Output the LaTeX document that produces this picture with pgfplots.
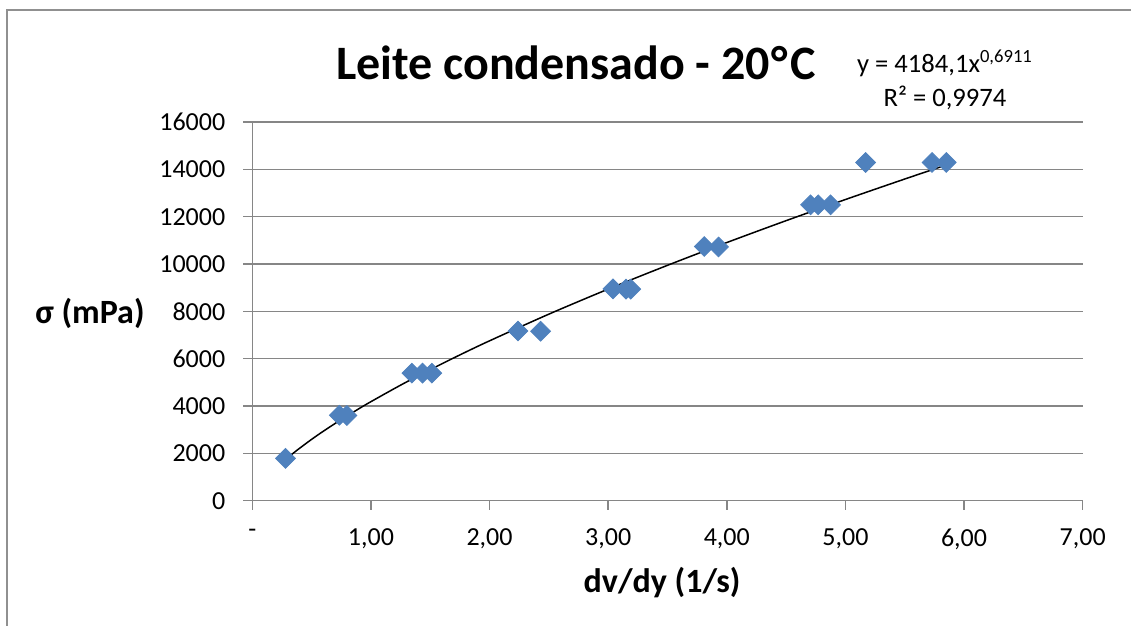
\documentclass[border=0pt]{standalone}
\usepackage{pgfplots}
\pgfplotsset{compat=1.18}
\usepackage{fontspec}
\setmainfont{Carlito}
\definecolor{ser}{HTML}{4F81BD}
\definecolor{axg}{HTML}{868686}
\definecolor{frm}{HTML}{909090}
\begin{document}
\begin{tikzpicture}
\useasboundingbox (0,0) rectangle (565.5pt,-313pt);
\draw[frm, line width=1pt] (3.5pt,-320pt) -- (3.5pt,-5pt) -- (570pt,-5pt);
\begin{axis}[
  at={(126.15pt,-250.35pt)}, anchor=south west,
  scale only axis, width=415.2pt, height=189.35pt,
  xmin=0, xmax=7, ymin=0, ymax=16000,
  xtick={0,1,...,7},
  xticklabels={-,{1,00},{2,00},{3,00},{4,00},{5,00},{6,00},{7,00}},
  ytick={0,2000,...,16000},
  scaled y ticks=false,
  /pgf/number format/assume math mode=true,
  /pgf/number format/1000 sep={},
  yticklabel style={font=\fontsize{13}{15}\selectfont, xshift=-5.5pt},
  xticklabel style={font=\fontsize{13}{15}\selectfont, yshift=-6pt},
  axis x line*=bottom, axis y line*=left,
  axis line style={axg, line width=0.75pt},
  tick style={axg, line width=0.75pt},
  tick align=outside, major tick length=4.5pt,
  ymajorgrids, grid style={axg, line width=0.75pt},
  clip=false,
]
\addplot[only marks, mark=square*, mark size=3.5pt, mark options={rotate=45, fill=ser, draw=ser}]
coordinates {
(0.28,1790)
(0.734,3610) (0.797,3600)
(1.345,5390) (1.435,5390) (1.514,5390)
(2.24,7170) (2.43,7160)
(3.04,8950) (3.15,8940) (3.19,8940)
(3.81,10740) (3.93,10720)
(4.706,12500) (4.77,12500) (4.875,12500)
(5.17,14290)
(5.73,14290) (5.85,14290)
};
\addplot[black, line width=0.75pt, smooth] coordinates {
(0.28,1736) (0.35,2026) (0.4,2221) (0.5,2592) (0.6,2940) (0.75,3430) (0.9,3890)
(1,4184) (1.25,4882) (1.5,5537) (1.75,6160) (2,6755) (2.5,7882) (3,8940)
(3.5,9945) (4,10907) (4.5,11832) (5,12725) (5.5,13591) (5.85,14183)
};
\end{axis}
\node[font=\bfseries\fontsize{24}{28}\selectfont] at (288pt,-31.5pt) {Leite condensado - 20\kern0.5pt{°}\kern1.5pt C};
\node[font=\fontsize{13.3}{17}\selectfont, align=center] at (472.5pt,-40pt) {y = 4184,1x\textsuperscript{0,6911}\\R² = 0,9974};
\node[font=\bfseries\fontsize{17}{20}\selectfont] at (45pt,-156.5pt) {σ (mPa)};
\node[font=\bfseries\fontsize{17}{20}\selectfont] at (331pt,-291.5pt) {dv/dy (1/s)};
\end{tikzpicture}
\end{document}
